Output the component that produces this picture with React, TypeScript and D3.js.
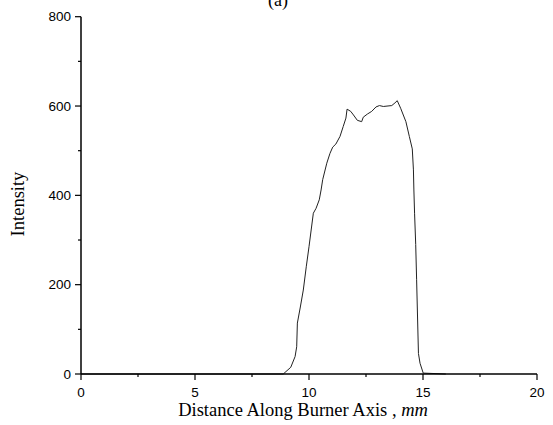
import React from "react";
import * as d3 from "d3";

const distances = [0, 8.87, 9.2, 9.39, 9.46, 9.49, 9.62, 9.75, 9.88, 10.0, 10.19, 10.31, 10.45, 10.53, 10.6, 10.78, 10.92, 11.04, 11.18, 11.36, 11.5, 11.62, 11.67, 11.83, 11.95, 12.12, 12.31, 12.38, 12.56, 12.75, 12.94, 13.09, 13.26, 13.63, 13.77, 13.87, 14.02, 14.25, 14.4, 14.53, 14.58, 14.6, 14.63, 14.68, 14.72, 14.8, 14.87, 15.01, 16.0];
const intensities = [0, 0, 15, 39, 61, 114, 150, 188, 240, 285, 360, 371, 390, 412, 435, 472, 494, 508, 515, 532, 554, 573, 593, 588, 580, 568, 565, 575, 582, 588, 598, 601, 599, 601, 607, 612, 595, 565, 532, 504, 457, 412, 360, 290, 211, 46, 24, 2, 0];

const xMajor = [0, 5, 10, 15, 20];
const xMinor = [2.5, 7.5, 12.5, 17.5];
const yMajor = [0, 200, 400, 600, 800];
const yMinor = [100, 300, 500, 700];

export default function App() {
  const W = 553, H = 425;
  const x = d3.scaleLinear().domain([0, 20]).range([81, 537]);
  const y = d3.scaleLinear().domain([0, 800]).range([374, 16.7]);
  const line = d3.line<number>().x((_, i) => x(distances[i])).y((d) => y(d));
  const path = line(intensities) || "";
  const sans = "'Liberation Sans', Arial, sans-serif";
  const serif = "'Liberation Serif', 'Times New Roman', serif";
  return (
    <svg width={W} height={H} style={{ position: "absolute", left: 0, top: 0, display: "block", background: "#fff" }}>
      <text x={278} y={6} textAnchor="middle" fontFamily={serif} fontSize={18} fill="#000">(a)</text>
      <path d={path} fill="none" stroke="#222" strokeWidth={1} />
      {/* axes */}
      <line x1={x(0)} x2={x(0)} y1={y(800)} y2={y(0)} stroke="#000" strokeWidth={1.5} />
      <line x1={x(0)} x2={x(20)} y1={y(0)} y2={y(0)} stroke="#000" strokeWidth={1.5} />
      {yMajor.map((v) => (
        <g key={"ym" + v}>
          <line x1={x(0) - 6} x2={x(0)} y1={y(v)} y2={y(v)} stroke="#000" strokeWidth={1.2} />
          <text x={x(0) - 10} y={y(v)} dy="0.35em" textAnchor="end" fontFamily={sans} fontSize={13.5} fill="#000">{v}</text>
        </g>
      ))}
      {yMinor.map((v) => (
        <line key={"yn" + v} x1={x(0) - 3} x2={x(0)} y1={y(v)} y2={y(v)} stroke="#000" strokeWidth={1.2} />
      ))}
      {xMajor.map((v) => (
        <g key={"xm" + v}>
          <line x1={x(v)} x2={x(v)} y1={y(0)} y2={y(0) + 6} stroke="#000" strokeWidth={1.2} />
          <text x={x(v)} y={397} textAnchor="middle" fontFamily={sans} fontSize={13.5} fill="#000">{v}</text>
        </g>
      ))}
      {xMinor.map((v) => (
        <line key={"xn" + v} x1={x(v)} x2={x(v)} y1={y(0)} y2={y(0) + 3} stroke="#000" strokeWidth={1.2} />
      ))}
      <text x={303} y={416} textAnchor="middle" fontFamily={serif} fontSize={18.5} fill="#000">
        Distance Along Burner Axis , <tspan fontStyle="italic">mm</tspan>
      </text>
      <text transform="translate(24,204) rotate(-90)" textAnchor="middle" fontFamily={serif} fontSize={18.5} fill="#000">Intensity</text>
    </svg>
  );
}
